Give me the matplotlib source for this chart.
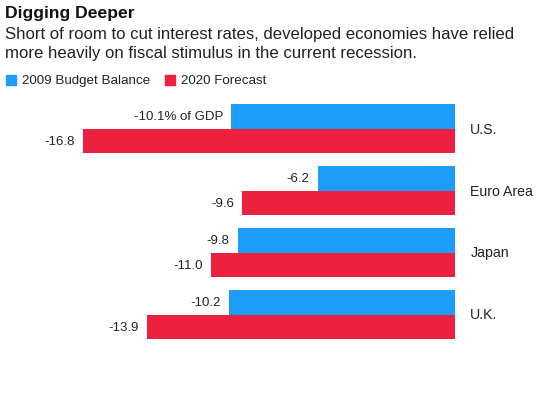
import matplotlib.pyplot as plt
import numpy as np

plt.rcParams['font.family'] = ['Liberation Sans', 'DejaVu Sans']

# data
regions = ['U.S.', 'Euro Area', 'Japan', 'U.K.']
budget_2009 = [-10.1, -6.2, -9.8, -10.2]
forecast_2020 = [-16.8, -9.6, -11.0, -13.9]
labels_2009 = ['-10.1% of GDP', '-6.2', '-9.8', '-10.2']
labels_2020 = ['-16.8', '-9.6', '-11.0', '-13.9']

BLUE = '#1e9cfa'
RED = '#ec2140'
TXT = '#222222'

W, H = 544, 402
fig = plt.figure(figsize=(W / 100, H / 100), dpi=100)

# axes placed so that zero sits at x=455px and -16.8 at x=83px
left, right = 83, 455
top, bottom = 98.5, 346.5
ax = fig.add_axes([left / W, 1 - bottom / H, (right - left) / W, (bottom - top) / H])

y = np.arange(len(regions))
h = 0.395
ax.barh(y - h / 2, budget_2009, height=h, color=BLUE, edgecolor='none')
ax.barh(y + h / 2, forecast_2020, height=h, color=RED, edgecolor='none')

ax.set_xlim(min(forecast_2020), 0)
ax.set_ylim(len(regions) - 0.5, -0.5)
ax.axis('off')

for i in range(len(regions)):
    ax.annotate(labels_2009[i], (budget_2009[i], y[i] - h / 2), xytext=(-6, 0),
                textcoords='offset points', ha='right', va='center', fontsize=9.5,
                color=TXT, annotation_clip=False)
    ax.annotate(labels_2020[i], (forecast_2020[i], y[i] + h / 2), xytext=(-6, 0),
                textcoords='offset points', ha='right', va='center', fontsize=9.5,
                color=TXT, annotation_clip=False)
    ax.annotate(regions[i], (0, y[i]), xytext=(11, 0), textcoords='offset points',
                ha='left', va='center', fontsize=10.2, color=TXT,
                annotation_clip=False)

# title block
fig.text(5 / W, 1 - 6 / H, 'Digging Deeper', fontsize=12.6, fontweight='bold',
         ha='left', va='top', color='#111111')
fig.text(5 / W, 1 - 27 / H,
         'Short of room to cut interest rates, developed economies have relied\n'
         'more heavily on fiscal stimulus in the current recession.',
         fontsize=12.1, ha='left', va='top', color=TXT, linespacing=1.32)

# legend
fig.patches.append(plt.Rectangle((6 / W, 1 - 86 / H), 10 / W, 10 / H,
                                 transform=fig.transFigure, color=BLUE))
fig.text(22 / W, 1 - 81 / H, '2009 Budget Balance', fontsize=9.6, ha='left',
         va='center', color=TXT)
fig.patches.append(plt.Rectangle((165 / W, 1 - 86 / H), 10 / W, 10 / H,
                                 transform=fig.transFigure, color=RED))
fig.text(181 / W, 1 - 81 / H, '2020 Forecast', fontsize=9.6, ha='left',
         va='center', color=TXT)

fig.savefig('out.png', dpi=100)
